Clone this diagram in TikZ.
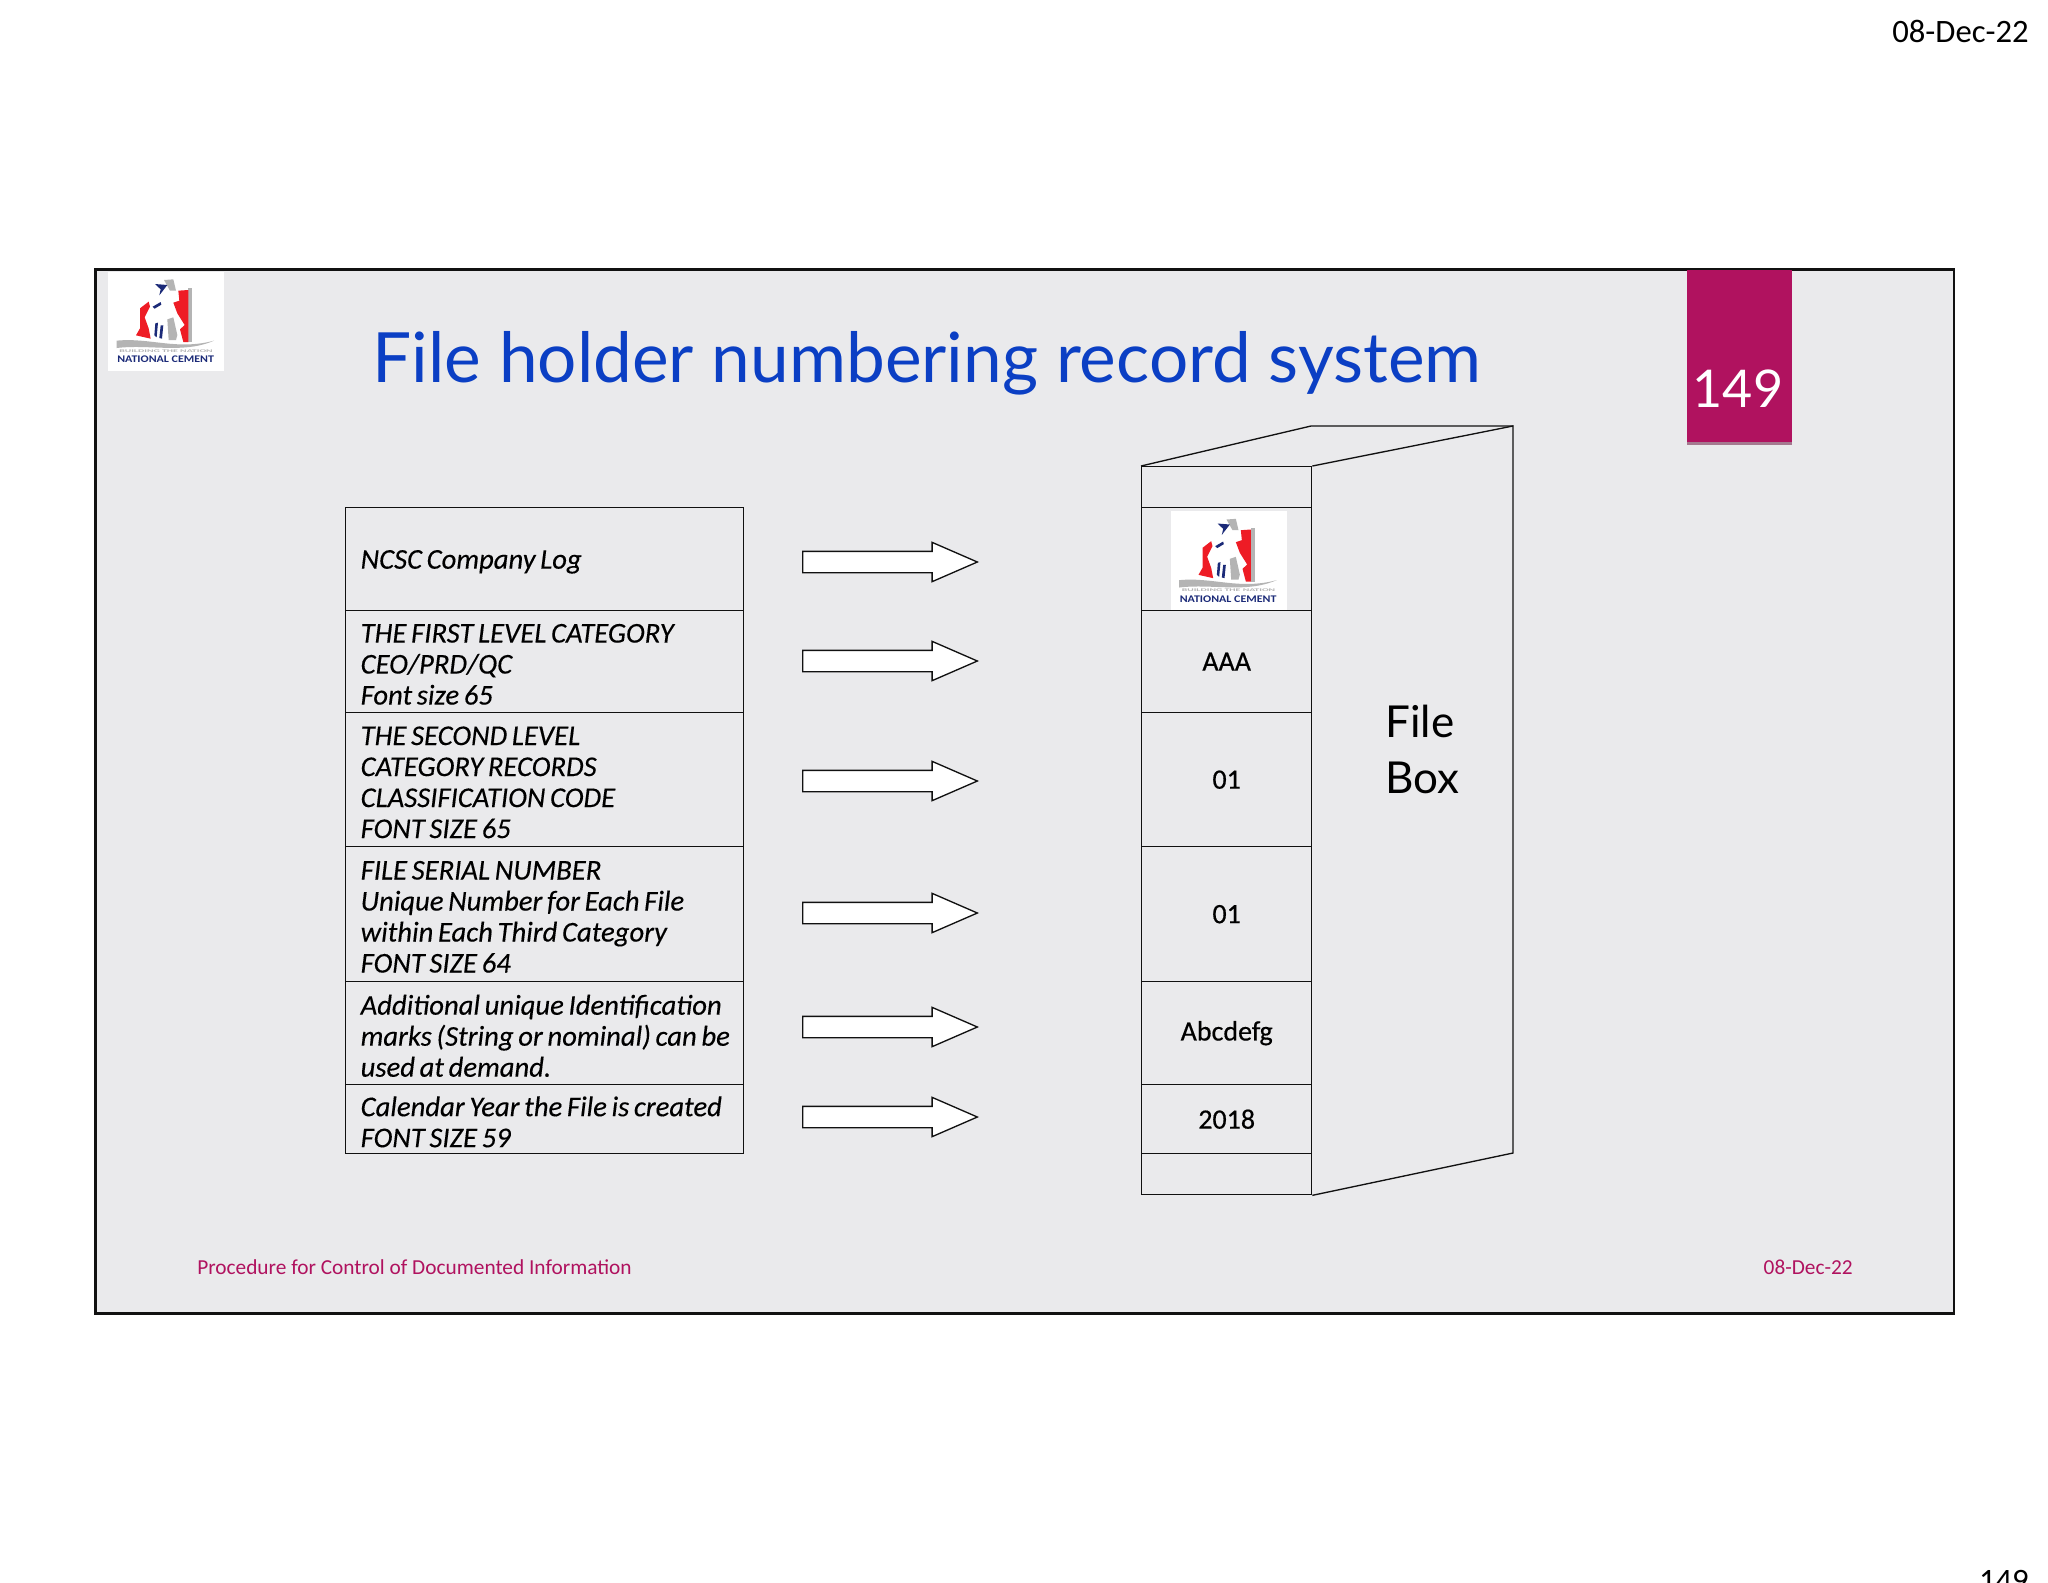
\documentclass[tikz,border=0pt]{standalone}
\usepackage{xcolor}
\usepackage{fontspec}
\setmainfont{Carlito}
\newfontfamily\headfont{Lato}
\newfontfamily\rowfont{Carlito}[FakeBold=0.25]
\newfontfamily\boxfont{Carlito}[FakeBold=0.5]
\usetikzlibrary{shapes.arrows,shadows}
\definecolor{Ink}{HTML}{111111}
\definecolor{Slide}{HTML}{EAEAEC}
\definecolor{Plum}{HTML}{B0125F}
\definecolor{TitleBlue}{HTML}{0B3FC4}
\definecolor{LogoRed}{HTML}{EE1C25}
\definecolor{LogoNavy}{HTML}{1B2A78}
\definecolor{LogoGrey}{HTML}{B4B4B4}

\tikzset{
  rowbox/.style={
    draw=Ink,
    line width=1pt,
    anchor=north west,
    inner xsep=0pt,
    inner ysep=0pt,
    text width=298.5pt,
    align=left,
    execute at begin node={\leftskip=11.25pt\spaceskip=3.5pt\relax\leavevmode\vadjust pre{\vskip4pt}},
    font=\rowfont\fontsize{21.5}{23.25}\selectfont\itshape
  },
  frontbox/.style={
    draw=Ink,
    line width=1pt,
    anchor=north west,
    minimum width=127.5pt,
    inner sep=0pt,
    font=\boxfont\fontsize{21}{23}\selectfont
  },
  blockarrow/.style={
    shape=single arrow,
    draw=Ink,
    fill=white,
    line width=1pt,
    anchor=tail,
    minimum height=131pt,
    minimum width=28.5pt,
    inner xsep=0pt,
    inner ysep=7.5pt,
    single arrow head extend=6.75pt,
    single arrow tip angle=47
  },
  ncsclogo/.pic={
    \begin{scope}[x=.25pt,y=-.25pt]
    \fill[white] (55,35) rectangle (402,332);
    \fill[LogoGrey] (222,60) -- (250,58) -- (258,92) -- (240,92) -- cycle;
    \fill[LogoGrey] (295,84) -- (307,84) -- (307,246) -- (295,246) -- cycle;
    \fill[LogoGrey] (232,178) -- (250,172) -- (262,225) -- (258,240) -- (236,240) -- cycle;
    \fill[LogoRed] (265,92) -- (295,90) -- (295,246) -- (280,246) -- (270,208) -- (284,195) -- (262,160) -- (250,128) -- (268,122) -- cycle;
    \fill[LogoRed] (150,145) -- (176,125) -- (180,140) -- (164,172) -- (176,205) -- (182,236) -- (138,226) -- (150,205) -- cycle;
    \fill[LogoNavy] (195,72) -- (232,75) -- (208,106) -- (212,88) -- cycle;
    \fill[LogoNavy] (188,140) -- (212,126) -- (214,134) -- (194,146) -- cycle;
    \fill[LogoNavy] (196,190) -- (204,188) -- (200,232) -- (193,226) -- cycle;
    \fill[LogoNavy] (212,196) -- (220,196) -- (216,236) -- (208,234) -- cycle;
    \fill[LogoGrey] (80,242) .. controls (180,232) and (260,272) .. (372,242) .. controls (280,282) and (180,252) .. (80,264) -- cycle;
    \node[inner sep=0pt,text=LogoGrey] (-motto) at (228,273)
    {\resizebox{70pt}{2pt}{\bfseries BUILDING THE NATION}};
    \node[inner sep=0pt,text=LogoNavy] (-brand) at (227,298)
    {\resizebox{72.5pt}{5pt}{\bfseries NATIONAL CEMENT}};
    \end{scope}
  }
}

\begin{document}
\begin{tikzpicture}[
  x=.75pt,
  y=-.75pt
]

\clip (0,0) rectangle (2048,1582);
\fill[white] (0,0) rectangle (2048,1582);

\node[
  draw=Ink,
  fill=Slide,
  line width=2pt,
  anchor=north west,
  minimum width=1394pt,
  minimum height=783pt,
  inner sep=0pt
] (slide) at (94,268) {};

\pic (toplogo) at (90,260) {ncsclogo};

\node[
  fill=Plum,
  anchor=north west,
  minimum width=78.75pt,
  minimum height=129pt,
  inner sep=0pt,
  drop shadow={shadow xshift=0pt,shadow yshift=-2pt,fill=Plum!55!black,opacity=.5}
] (tab) at (1687,270) {};

\node[text=white,font=\headfont\fontsize{39}{39}\selectfont,inner sep=0pt] (tabnum) at (1738,389) {149};

\node[
  text=TitleBlue,
  font=\headfont\fontsize{52}{52}\selectfont,
  inner sep=0pt
] (title) at (927,363) {File holder numbering record system};

% left column
\node[rowbox,minimum height=77.25pt] (r1) at (345,507) {NCSC Company Log};
\node[rowbox,minimum height=76.5pt] (r2) at (345,610)
{THE FIRST LEVEL CATEGORY\\CEO/PRD/QC\\Font size 65};
\node[rowbox,minimum height=100.5pt] (r3) at (345,712)
{THE SECOND LEVEL\\CATEGORY RECORDS\\CLASSIFICATION CODE\\FONT SIZE 65};
\node[rowbox,minimum height=101.25pt] (r4) at (345,846)
{FILE SERIAL NUMBER\\Unique Number for Each File\\within Each Third Category\\FONT SIZE 64};
\node[rowbox,minimum height=77.25pt] (r5) at (345,981)
{Additional unique Identification\\marks (String or nominal) can be\\used at demand.};
\node[rowbox,minimum height=51.75pt] (r6) at (345,1084)
{Calendar Year the File is created\\FONT SIZE 59};

% arrows
\foreach \n/\y in {1/562,2/661,3/781,4/913,5/1027,6/1117}{
  \node[blockarrow] (a\n) at (802,\y) {};
}

% file box
\node[frontbox,minimum height=30.75pt] (b0) at (1141,466) {};
\node[frontbox,minimum height=77.25pt] (b1) at (1141,507) {};
\node[frontbox,minimum height=76.5pt] (b2) at (1141,610) {AAA};
\node[frontbox,minimum height=100.5pt] (b3) at (1141,712) {01};
\node[frontbox,minimum height=101.25pt] (b4) at (1141,846) {01};
\node[frontbox,minimum height=77.25pt] (b5) at (1141,981) {Abcdefg};
\node[frontbox,minimum height=51.75pt] (b6) at (1141,1084) {2018};
\node[frontbox,minimum height=30.75pt] (b7) at (1141,1153) {};

\coordinate (backleft) at (1311,426);
\coordinate (backright) at (1513,426);
\coordinate (backlow) at (1513,1153);

\draw[Ink,line width=1pt] (b0.north west) -- (backleft) -- (backright);
\draw[Ink,line width=1pt] (b0.north east) -- (backright) -- (backlow) -- (b7.south east);

\pic (boxlogo) at (1152.5,499.5) {ncsclogo};

\node[
  align=left,
  inner sep=0pt,
  anchor=west,
  font=\headfont\fontsize{33}{42}\selectfont
] (boxname) at (1385,749) {File\\Box};

% footer and page marks
\node[text=Plum,font=\fontsize{16}{20}\selectfont,inner sep=0pt,anchor=west] (footleft) at (197,1267)
{Procedure for Control of Documented Information};
\node[text=Plum,font=\fontsize{16}{20}\selectfont,inner sep=0pt,anchor=east] (footright) at (1853,1267)
{08-Dec-22};
\node[font=\fontsize{24.5}{24.5}\selectfont,inner sep=0pt,anchor=east] (date) at (2029,31) {08-Dec-22};
\node[font=\fontsize{24.5}{24.5}\selectfont,inner sep=0pt,anchor=base east] (pageno) at (2029,1591) {149};

\end{tikzpicture}
\end{document}
